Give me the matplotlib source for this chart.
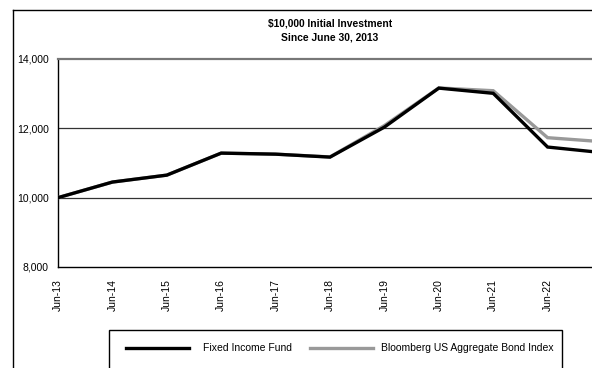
import matplotlib
matplotlib.use("Agg")
import matplotlib.pyplot as plt
from matplotlib.lines import Line2D
from matplotlib.patches import Rectangle

plt.rcParams['font.family'] = ['Liberation Sans', 'DejaVu Sans']

# Growth of a $10,000 investment, valued each June 30
periods = ["Jun-13", "Jun-14", "Jun-15", "Jun-16", "Jun-17", "Jun-18",
           "Jun-19", "Jun-20", "Jun-21", "Jun-22", "Jun-23"]
fund_values = [10000, 10450, 10650, 11285, 11255, 11170,
               12035, 13160, 13010, 11460, 11300]
index_values = [10000, 10450, 10650, 11285, 11255, 11175,
                12080, 13165, 13085, 11730, 11615]
series_names = ["Fixed Income Fund", "Bloomberg US Aggregate Bond Index"]
series_colors = ["black", "#999999"]
y_ticks = [8000, 10000, 12000, 14000]
title_text = "$10,000 Initial Investment\nSince June 30, 2013"

W, H = 592, 368
fig = plt.figure(figsize=(W / 100, H / 100), dpi=100)

def fx(px):
    return px / W

def fy(py):
    return 1 - py / H

# outer chart frame (runs off the right and bottom edges)
fig.add_artist(Line2D([fx(13), fx(13)], [fy(10), fy(400)], color="black", lw=1.0))
fig.add_artist(Line2D([fx(13), fx(700)], [fy(10), fy(10)], color="black", lw=1.0))

ax = fig.add_axes([fx(58), fy(267), fx(602) - fx(58), fy(59) - fy(267)])
x = list(range(len(periods)))
ax.plot(x, index_values, color=series_colors[1], lw=2.4, solid_joinstyle="miter", zorder=3)
ax.plot(x, fund_values, color=series_colors[0], lw=2.4, solid_joinstyle="miter", zorder=4)

ax.set_xlim(0, len(periods) - 1)
ax.set_ylim(8000, 14000)
ax.set_yticks(y_ticks)
ax.set_yticklabels([f"{v:,}" for v in y_ticks], fontsize=7.5)
ax.set_xticks(x)
ax.set_xticklabels(periods, rotation=90, fontsize=7.5, va="top")
ax.tick_params(axis="both", length=0)
ax.tick_params(axis="y", pad=6.5)
ax.tick_params(axis="x", pad=8.5)

for v in (10000, 12000):
    ax.axhline(v, color="#333333", lw=0.9, zorder=1)
ax.spines["top"].set_color("#777777")
ax.spines["top"].set_linewidth(1.6)
ax.spines["right"].set_visible(False)
ax.spines["left"].set_linewidth(1.0)
ax.spines["bottom"].set_linewidth(1.0)

fig.text(fx(330), fy(30), title_text, ha="center", va="center",
         fontsize=7.4, fontweight="bold", linespacing=1.5)

# legend panel with hand-placed keys
fig.add_artist(Rectangle((fx(109), fy(400)), fx(562) - fx(109), fy(330) - fy(400),
                         fill=False, edgecolor="black", lw=1.0))
key_spans = [(126, 189, 203), (310, 373, 381)]
for (x0, x1, tx), name, color in zip(key_spans, series_names, series_colors):
    fig.add_artist(Line2D([fx(x0), fx(x1)], [fy(348), fy(348)], color=color, lw=2.4))
    fig.text(fx(tx), fy(348), name, ha="left", va="center", fontsize=7.5)

fig.savefig("out.png", dpi=100)
